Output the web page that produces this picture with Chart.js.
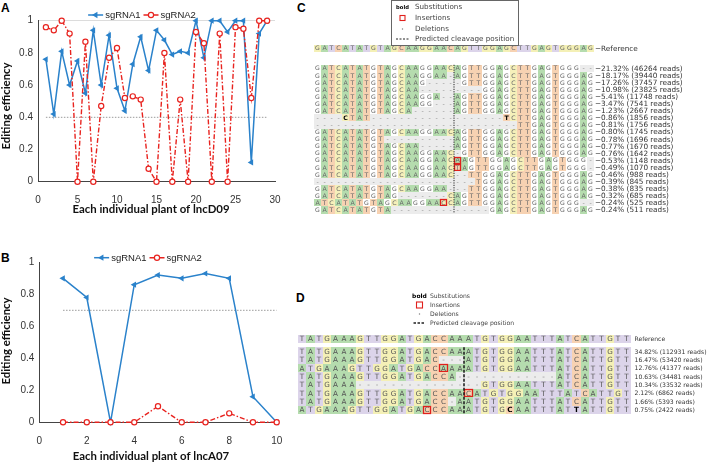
<!DOCTYPE html>
<html>
<head>
<meta charset="utf-8">
<script src="https://cdn.jsdelivr.net/npm/chart.js@4.4.1/dist/chart.umd.min.js"></script>
<style>
  body { margin: 0; background: #fff; width: 708px; height: 462px; position: relative; overflow: hidden; }
  canvas { position: absolute; }
  .tag { position: absolute; font: bold 12px "Liberation Sans", Arial, sans-serif; line-height: 12px; color: #000; }
</style>
</head>
<body>
<div class="tag" style="left:1px;top:2px">A</div>
<div class="tag" style="left:1px;top:252px">B</div>
<div class="tag" style="left:297px;top:2px">C</div>
<div class="tag" style="left:296px;top:292px">D</div>
<canvas id="chartA" width="290" height="215" style="left:0;top:0"></canvas>
<canvas id="chartB" width="290" height="222" style="left:0;top:240px"></canvas>
<canvas id="chartC" width="408" height="216" style="left:300px;top:0"></canvas>
<canvas id="chartD" width="418" height="140" style="left:290px;top:280px"></canvas>
<script>
// ---- panel A : lncD09 ----
const plantA = [1, 2, 3, 4, 5, 6, 7, 8, 9, 10, 11, 12, 13, 14, 15, 16, 17, 18, 19, 20, 21, 22, 23, 24, 25, 26, 27, 28, 29];
const sg1A = [0.76, 0.42, 0.81, 0.60, 0.75, 0.55, 0.94, 0.60, 0.91, 0.58, 0.44, 0.73, 0.90, 0.69, 0.94,
              0.88, 0.79, 0.81, 0.80, 1.00, 0.77, 1.00, 1.00, 0.93, 1.00, 1.00, 0.12, 0.92, 1.00];
const sg2A = [0.96, 0.94, 1.00, 0.92, 0, 0.87, 0, 0.47, 0.77, 0.83, 0.52, 0.53, 0.51, 0.08, 0,
              0.80, 0, 0.51, 0, 0.93, 0.86, 0, 0.92, 0, 0.96, 0.95, 0.52, 1.00, 1.00];
const thrA = 0.4;

// ---- panel B : lncA07 ----
const plantB = [1, 2, 3, 4, 5, 6, 7, 8, 9, 10];
const sg1B = [0.90, 0.78, 0, 0.86, 0.92, 0.90, 0.93, 0.90, 0.16, 0];
const sg2B = [0, 0, 0, 0, 0.10, 0, 0, 0.056, 0, 0];
const thrB = 0.7;

// ---- panel C : alignment (lowercase = inserted base) ----
const refC = 'GATCATATGTAGCAAGGAACAGTTGGAGCTTGAGTGGGAG';
const readsC = [
  'GATCATATGTAGCAAGGAACAGTTGGAGCTTGAGTGGG--',
  'GATCATATGTAGCAAGGAA-AGTTGGAGCTTGAGTGGGAG',
  'GATCATATGTAGCAAG-----GTTGGAGCTTGAGTGGGAG',
  'GATCATATGTAGCAA---------GGAGCTTGAGTGGGAG',
  'GATCATATGTAGCAAGGA--AGTTGGAGCTTGAGTGGGAG',
  'GATCATATGTAGCAAGG---AGTTGGAGCTTGAGTGGGAG',
  'GATCATATGTAGCA------AGTTGGAGCTTGAGTGGGAG',
  '----CTAT-------------------TCTTGAGTGGGAG',
  '-----------------------------TTGAGTGGGAG',
  'GATCATATGTAGCAAGGAACAGTTGGAGCTTGAGTGGGAG',
  'GATCATATGT----------AGTTGGAGCTTGAGTGGGAG',
  'GATCATATGTAGCAA-----AGTTGGAGCTTGAGTGGGAG',
  'GATCATATGTAGCAAGGAAC-GTTGGAGCTTGAGTGGGAG',
  'GATCATATGTAGCAAGGAACaAGTTGGAGCTTGAGTGGG-',
  'GATCATATGTAGCAAGGAACtAGTTGGAGCTTGAGTGGG-',
  'GATCATATGTAGCAAGGAAC--TTGGAGCTTGAGTGGGAG',
  '-----------------------TGGAGCTTGAGTGGGAG',
  'GATCATATGTAGCAAGGAA---TTGGAGCTTGAGTGGGAG',
  'GATCATATGTAG-------CAGTTGGAGCTTGAGTGGGAG',
  'ATCATATGTAGCAAGGAAcCAGTTGGAGCTTGAGTGGG--',
  'GATCATATGTA--------------GAGCTTGAGTGGGAG'
];
const labelsC = ['21.32% (46264 reads)', '18.17% (39440 reads)', '17.26% (37457 reads)', '10.98% (23825 reads)',
  '5.41% (11748 reads)', '3.47% (7541 reads)', '1.23% (2667 reads)', '0.86% (1856 reads)', '0.81% (1756 reads)',
  '0.80% (1745 reads)', '0.78% (1696 reads)', '0.77% (1670 reads)', '0.76% (1642 reads)', '0.53% (1148 reads)',
  '0.49% (1070 reads)', '0.46% (988 reads)', '0.39% (845 reads)', '0.38% (835 reads)', '0.32% (685 reads)',
  '0.24% (525 reads)', '0.24% (511 reads)'];
const subsC = [[7, 4], [7, 27]];

// ---- panel D : alignment ----
const refD = 'TATGAAAGTTGGATGACCAAATGTGGAATTTATCATTGTT';
const readsD = [
  'TATGAAAGTTGGATGACCAAATGTGGAATTTATCATTGTT',
  'TATGAAAGTTGGATGAC---ATGTGGAATTTATCATTGTT',
  'ATGAAAGTTGGATGACCaAAATGTGGAATTTATCATTGTT',
  'TATGAAAGTTGGATGACCA------------ATCATTGTT',
  'TATGAAA---------------GTGGAATTTATCATTGTT',
  'TATGAAAGTTGGATGACCAAcATGTGGAATTTATCATTGT',
  'TATGAAAGTTGGATGACC-AATGTGGAATTTATCATTGTT',
  'ATGAAAGTTGGATGAcCCAAATGTGCAATTTATTATTGTT'
];
const labelsD = ['34.82% (112931 reads)', '16.47% (53420 reads)', '12.76% (41377 reads)', '10.63% (34481 reads)',
  '10.34% (33532 reads)', '2.12% (6862 reads)', '1.66% (5393 reads)', '0.75% (2422 reads)'];
const subsD = [[7, 25], [7, 33]];

const legendItems = ['Substitutions', 'Insertions', 'Deletions', 'Predicted cleavage position'];

const BLUE = '#2a82cb', RED = '#e8231f';
const SANS = '"Liberation Sans", Arial, sans-serif';
const DJV = '"DejaVu Sans", sans-serif';
const TITLE_FONT = 'bold 11.4px Lato, sans-serif';

function drawMarker(ctx, d, x, y) {
  ctx.save();
  ctx.setLineDash([]);
  ctx.beginPath();
  if (d.pointStyle === 'triangle') {
    const r = d.pointRadius;
    ctx.moveTo(x - r, y);
    ctx.lineTo(x + r * 0.5, y - r * 0.87);
    ctx.lineTo(x + r * 0.5, y + r * 0.87);
    ctx.closePath();
    ctx.fillStyle = d.pointBackgroundColor;
    ctx.fill();
  } else {
    ctx.arc(x, y, d.pointRadius, 0, Math.PI * 2);
    ctx.fillStyle = d.pointBackgroundColor;
    ctx.fill();
    ctx.lineWidth = d.pointBorderWidth;
    ctx.strokeStyle = d.pointBorderColor;
    ctx.stroke();
  }
  ctx.restore();
}

// matlab style legend just above the axes, plus the two axis titles
const matDecor = {
  id: 'matDecor',
  afterDraw(chart, args, opts) {
    const ctx = chart.ctx;
    ctx.save();
    ctx.font = '9.5px ' + SANS;
    const items = chart.data.datasets.filter(d => d.label);
    const iw = 15, gap = 2, sep = 3;
    let total = 0;
    items.forEach(d => total += iw + gap + ctx.measureText(d.label).width);
    total += sep * (items.length - 1);
    let x = opts.cx - total / 2;
    const y = opts.cy;
    items.forEach(d => {
      ctx.strokeStyle = d.borderColor;
      ctx.lineWidth = d.borderWidth;
      ctx.setLineDash(d.borderDash || []);
      ctx.beginPath();
      ctx.moveTo(x, y);
      ctx.lineTo(x + iw, y);
      ctx.stroke();
      ctx.setLineDash([]);
      drawMarker(ctx, d, x + iw / 2, y);
      x += iw + gap;
      ctx.fillStyle = '#222';
      ctx.textBaseline = 'middle';
      ctx.fillText(d.label, x, y + 0.5);
      x += ctx.measureText(d.label).width + sep;
    });
    ctx.font = TITLE_FONT;
    ctx.fillStyle = '#111';
    ctx.textAlign = 'center';
    ctx.textBaseline = 'middle';
    ctx.fillText(opts.xTitle, opts.xt[0], opts.xt[1]);
    ctx.translate(opts.yt[0], opts.yt[1]);
    ctx.rotate(-Math.PI / 2);
    ctx.fillText('Editing efficiency', 0, 0);
    ctx.restore();
  }
};

function lineChart(id, plants, s1, s2, thr, xMax, xStep, xTitle, area, decor, topLine) {
  const cv = document.getElementById(id);
  const pts = arr => arr.map((v, i) => ({ x: plants[i], y: v }));
  return new Chart(cv, {
    type: 'line',
    data: {
      datasets: [
        {
          label: 'sgRNA1', data: pts(s1), borderColor: BLUE, borderWidth: 1.5,
          pointStyle: 'triangle', pointRotation: -90, pointRadius: 3.6,
          pointBorderColor: BLUE, pointBackgroundColor: BLUE, pointBorderWidth: 0,
          tension: 0, order: 1, clip: false
        },
        {
          label: 'sgRNA2', data: pts(s2), borderColor: RED, borderWidth: 1.4,
          borderDash: [5, 2, 1.5, 2], pointStyle: 'circle', pointRadius: 2.6,
          pointBorderColor: RED, pointBackgroundColor: '#fff', pointBorderWidth: 1.2,
          tension: 0, order: 0, clip: false
        },
        {
          label: '', data: [{ x: plants[0], y: thr }, { x: plants[plants.length - 1], y: thr }],
          borderColor: '#9a9a9a', borderWidth: 1, borderDash: [1.5, 1.5], pointRadius: 0, order: 2
        }
      ]
    },
    options: {
      responsive: false, animation: false, events: [],
      layout: { padding: { left: 0, top: area.top, right: cv.width - area.right, bottom: 0 } },
      plugins: {
        legend: { display: false }, tooltip: { enabled: false },
        matDecor: Object.assign({ xTitle: xTitle }, decor)
      },
      scales: {
        x: {
          type: 'linear', min: 0, max: xMax,
          afterFit: s => { s.height = cv.height - area.bottom; },
          ticks: { stepSize: xStep, font: { size: 10, family: SANS }, color: '#333', padding: 5, maxRotation: 0 },
          grid: { display: false },
          border: { color: '#444', width: 1 }
        },
        y: {
          min: 0, max: 1,
          afterFit: s => { s.width = area.left; },
          ticks: { stepSize: 0.2, font: { size: 10, family: SANS }, color: '#333', padding: 5,
                   callback: v => String(Math.round(v * 10) / 10) },
          grid: { drawTicks: false, color: c => (topLine && c.tick && c.tick.value === 1) ? '#dcdcdc' : 'rgba(0,0,0,0)' },
          border: { color: '#444', width: 1 }
        }
      }
    },
    plugins: [matDecor]
  });
}

lineChart('chartA', plantA, sg1A, sg2A, thrA, 30, 5, 'Each individual plant of lncD09',
  { left: 38, top: 20.7, right: 275, bottom: 181.7 },
  { cx: 142, cy: 15, xt: [151, 209], yt: [6, 106] }, true);
lineChart('chartB', plantB, sg1B, sg2B, thrB, 10, 2, 'Each individual plant of lncA07',
  { left: 39.3, top: 22.3, right: 276.7, bottom: 182.3 },
  { cx: 148, cy: 17.7, xt: [151, 216.7], yt: [6, 101] }, false);

// ---- alignment panels ----
const palRef = { A: '#b5dcae', T: '#dcd4ea', G: '#f4f0b6', C: '#f7d2b2' };
const palReadC = { A: '#b5dcae', T: '#f7d2b2', C: '#f5f0ba', G: null };

function drawAlign(chart, sp) {
  const { ctx, scales: { x, y } } = chart;
  const h = Math.abs(y.getPixelForValue(1) - y.getPixelForValue(0));
  const px = c => Math.round(x.getPixelForValue(c));
  ctx.save();
  ctx.textAlign = 'center';
  ctx.textBaseline = 'middle';
  const rows = [{ seq: sp.ref, row: sp.refRow, pal: palRef, label: sp.refLabel }]
    .concat(sp.reads.map((s, i) => ({ seq: s, row: i, pal: sp.readPal, label: sp.prefix + sp.labels[i] })));
  rows.forEach((r, ri) => {
    const yc = y.getPixelForValue(r.row);
    const y0 = Math.round(yc - h / 2), y1 = Math.round(yc + h / 2);
    [...r.seq].forEach((ch, c) => {
      const x0 = px(c), x1 = px(c + 1);
      const up = ch.toUpperCase();
      const bg = ch === '-' ? '#ececec' : r.pal[up];
      if (bg) { ctx.fillStyle = bg; ctx.fillRect(x0, y0, x1 - x0, y1 - y0); }
    });
    [...r.seq].forEach((ch, c) => {
      const x0 = px(c), x1 = px(c + 1);
      const up = ch.toUpperCase();
      const sub = ri > 0 && sp.subs.some(s => s[0] === ri - 1 && s[1] === c);
      ctx.font = (sub ? 'bold ' : '') + sp.fs + 'px ' + DJV;
      ctx.fillStyle = sub ? '#000' : (ch === '-' ? '#888' : sp.letter);
      ctx.fillText(up, (x0 + x1) / 2, yc + 0.5);
      if (ch !== up) {
        ctx.strokeStyle = '#e0201c';
        ctx.lineWidth = 1.3;
        ctx.strokeRect(x0 + 0.5, y0 + 0.5, x1 - x0 - 1, y1 - y0 - 1);
      }
    });
    ctx.font = sp.lfs + 'px ' + DJV;
    ctx.fillStyle = '#333';
    ctx.textAlign = 'left';
    ctx.fillText(r.label, px(40) + sp.lgap, yc + 0.5);
    ctx.textAlign = 'center';
  });
  // predicted cleavage position
  const cx = px(sp.cut);
  ctx.strokeStyle = '#222';
  ctx.lineWidth = sp.cutW;
  ctx.setLineDash(sp.cutDash);
  ctx.beginPath();
  ctx.moveTo(cx, y.getPixelForValue(-0.5));
  ctx.lineTo(cx, y.getPixelForValue(sp.reads.length - 0.5));
  ctx.stroke();
  ctx.setLineDash([]);
  // legend
  const L = sp.legend;
  if (L.box) {
    ctx.strokeStyle = '#666';
    ctx.lineWidth = 1;
    ctx.strokeRect(L.box[0], L.box[1], L.box[2], L.box[3]);
  }
  ctx.font = 'bold ' + L.bfs + 'px ' + DJV;
  ctx.fillStyle = '#000';
  ctx.fillText('bold', L.ix, L.ys[0] + 0.5);
  ctx.strokeStyle = '#e0201c';
  ctx.lineWidth = 1.1;
  ctx.strokeRect(L.ix - L.sq / 2, L.ys[1] - L.sq / 2, L.sq, L.sq);
  ctx.fillStyle = '#777';
  ctx.fillRect(L.ix - 0.6, L.ys[2] - 0.6, 1.2, 1.2);
  ctx.strokeStyle = '#222';
  ctx.lineWidth = L.dw;
  ctx.setLineDash(L.dash);
  ctx.beginPath();
  ctx.moveTo(L.ix - L.dl / 2, L.ys[3]);
  ctx.lineTo(L.ix + L.dl / 2, L.ys[3]);
  ctx.stroke();
  ctx.setLineDash([]);
  ctx.font = L.fs + 'px ' + DJV;
  ctx.fillStyle = '#444';
  ctx.textAlign = 'left';
  legendItems.forEach((t, i) => ctx.fillText(t, L.tx, L.ys[i] + 0.5));
  ctx.restore();
}

function alignChart(id, pad, yMin, yMax, spec) {
  return new Chart(document.getElementById(id), {
    type: 'scatter',
    data: { datasets: [] },
    options: {
      responsive: false, animation: false, events: [],
      layout: { padding: pad },
      plugins: { legend: { display: false }, tooltip: { enabled: false } },
      scales: {
        x: { type: 'linear', display: false, min: 0, max: 40 },
        y: { type: 'linear', display: false, min: yMin, max: yMax, reverse: true }
      }
    },
    plugins: [{ id: 'align', afterDraw: c => drawAlign(c, spec) }]
  });
}

alignChart('chartC', { left: 14, right: 114, top: 44.6, bottom: 2.5 }, -3.35, 20.5, {
  ref: refC, refRow: -2.85, reads: readsC, labels: labelsC, subs: subsC, readPal: palReadC,
  refLabel: '\u2212Reference', prefix: '\u2212', fs: 6.2, lfs: 7.3, lgap: 1, letter: '#666',
  cut: 20, cutW: 1, cutDash: [1.2, 1.2],
  legend: { box: [91.5, 0.5, 127, 45], ys: [7, 18, 29, 39], ix: 102.5, tx: 115, fs: 7.2, bfs: 5.2, sq: 5, dl: 13, dw: 1, dash: [2, 1.5] }
});

alignChart('chartD', { left: 7.9, right: 77.3, top: 54.8, bottom: 5.8 }, -2, 7.5, {
  ref: refD, refRow: -1.5, reads: readsD, labels: labelsD, subs: subsD, readPal: palRef,
  refLabel: 'Reference', prefix: '', fs: 7.2, lfs: 6.1, lgap: 3.5, letter: '#555',
  cut: 20, cutW: 1.6, cutDash: [3, 1.5],
  legend: { box: null, ys: [16, 25, 34, 43], ix: 129.5, tx: 140, fs: 6.1, bfs: 6, sq: 6, dl: 12, dw: 1.5, dash: [2.5, 1.5] }
});
</script>
</body>
</html>
